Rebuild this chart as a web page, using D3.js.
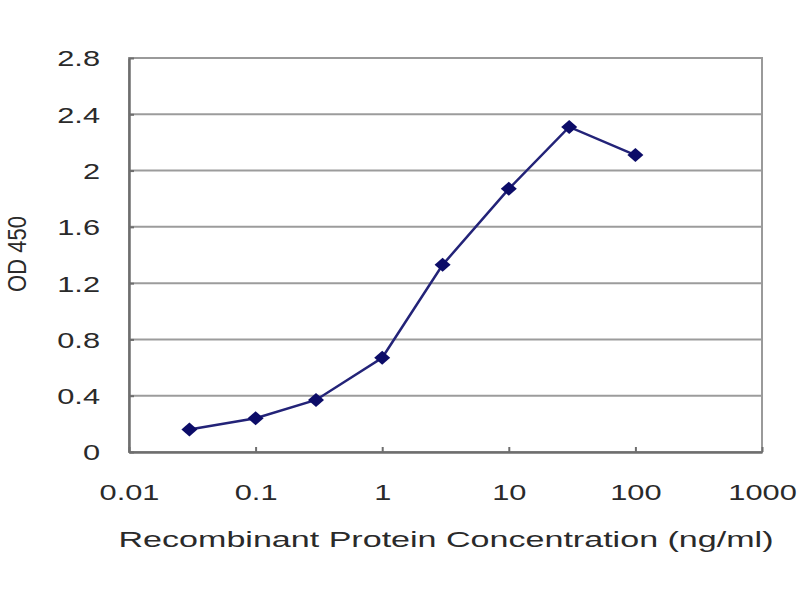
<!DOCTYPE html>
<html>
<head>
<meta charset="utf-8">
<script src="https://cdn.jsdelivr.net/npm/d3@7"></script>
<style>
  body { margin: 0; background: #fff; }
  svg text { font-family: "Liberation Sans", Arial, sans-serif; fill: #2a2a2a; }
</style>
</head>
<body>
<div id="chart"></div>
<script>
const concentrations = [0.03, 0.1, 0.3, 1, 3, 10, 30, 100];
const od450 = [0.16, 0.24, 0.37, 0.67, 1.33, 1.87, 2.31, 2.11];
const xTicks = [0.01, 0.1, 1, 10, 100, 1000];
const yTicks = [0, 0.4, 0.8, 1.2, 1.6, 2, 2.4, 2.8];

const width = 800;
const height = 600;
const margin = {top: 58, left: 129, bottom: 148, right: 38};
const iwidth = width - margin.left - margin.right;
const iheight = height - margin.top - margin.bottom;
const stretch = 1.4; // the reference text is wide

const svg = d3.select("#chart").append("svg")
    .attr("width", width)
    .attr("height", height);

const g = svg.append("g").attr("transform", `translate(${margin.left},${margin.top})`);

const x = d3.scaleLog().domain([0.01, 1000]).range([0, iwidth]);
const y = d3.scaleLinear().domain([0, 2.8]).range([iheight, 0]);

// gridlines
g.append("g")
    .selectAll("line")
    .data(yTicks.slice(1))
    .enter().append("line")
    .attr("x1", 0).attr("x2", iwidth)
    .attr("y1", d => y(d)).attr("y2", d => y(d))
    .attr("stroke", "#9c9c9c")
    .attr("stroke-width", 2);

// plot border
g.append("rect")
    .attr("width", iwidth).attr("height", iheight)
    .attr("fill", "none")
    .attr("stroke", "#9a9a9a")
    .attr("stroke-width", 2);

// axes (ticks point inward)
const xAxis = g.append("g")
    .attr("transform", `translate(0,${iheight})`)
    .call(d3.axisBottom(x).tickValues(xTicks).tickFormat(d => String(d)).tickSizeInner(-5).tickSizeOuter(0).tickPadding(0));
xAxis.select(".domain").attr("stroke", "#6e6e6e").attr("stroke-width", 2.5);
xAxis.selectAll(".tick line").attr("stroke", "#6e6e6e").attr("stroke-width", 2);
xAxis.selectAll("text")
    .attr("y", 48).attr("dy", null)
    .attr("transform", `scale(${stretch},1)`)
    .style("font-size", "22px");

const yAxis = g.append("g")
    .call(d3.axisLeft(y).tickValues(yTicks).tickFormat(d => String(d)).tickSizeInner(-5).tickSizeOuter(0).tickPadding(0));
yAxis.select(".domain").attr("stroke", "#6e6e6e").attr("stroke-width", 2.5);
yAxis.selectAll(".tick line").attr("stroke", "#6e6e6e").attr("stroke-width", 2);
yAxis.selectAll("text")
    .attr("x", -29 / stretch)
    .attr("dy", "0.36em")
    .attr("transform", `scale(${stretch},1)`)
    .style("font-size", "22px");

// line
const line = d3.line()
    .x((d, i) => x(concentrations[i]))
    .y(d => y(d));

g.append("path")
    .datum(od450)
    .attr("fill", "none")
    .attr("stroke", "#232378")
    .attr("stroke-width", 2.5)
    .attr("d", line);

g.selectAll(".pt")
    .data(od450)
    .enter().append("path")
    .attr("class", "pt")
    .attr("transform", (d, i) => `translate(${x(concentrations[i])},${y(d)})`)
    .attr("d", "M0,-7L8,0L0,7L-8,0Z")
    .attr("fill", "#0c0c68");

// labels
svg.append("text")
    .attr("x", 446)
    .attr("y", 547)
    .attr("text-anchor", "middle")
    .attr("textLength", 655)
    .attr("lengthAdjust", "spacingAndGlyphs")
    .style("font-size", "22px")
    .text("Recombinant Protein Concentration (ng/ml)");

svg.append("text")
    .attr("transform", "translate(26,254) scale(1.2,1) rotate(-90)")
    .attr("text-anchor", "middle")
    .style("font-size", "22px")
    .text("OD 450");
</script>
</body>
</html>
